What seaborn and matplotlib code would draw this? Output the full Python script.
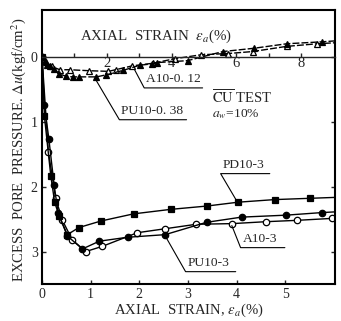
import numpy as np
import pandas as pd
import matplotlib
matplotlib.use("Agg")
import matplotlib.pyplot as plt
import seaborn as sns

# ---------------- data (bottom axis: axial strain 0-6 %) ----------------
pd10_3_x = [0, 0.05, 0.18, 0.26, 0.35, 0.52, 0.76, 1.21, 1.88, 2.65, 3.38, 4.03, 4.78, 5.51, 6.25]
pd10_3_y = [0, 0.92, 1.83, 2.24, 2.45, 2.74, 2.63, 2.53, 2.42, 2.35, 2.30, 2.24, 2.20, 2.18, 2.16]

pu10_3_x = [0, 0.05, 0.14, 0.25, 0.33, 0.52, 0.83, 1.18, 1.76, 2.53, 3.38, 4.10, 5.01, 5.75, 6.25]
pu10_3_y = [0, 0.75, 1.26, 1.98, 2.40, 2.76, 2.96, 2.84, 2.78, 2.74, 2.55, 2.47, 2.44, 2.40, 2.38]

a10_3_x = [0, 0.13, 0.28, 0.42, 0.62, 0.90, 1.24, 1.96, 2.52, 3.17, 3.91, 4.61, 5.23, 5.95]
a10_3_y = [0, 1.46, 2.18, 2.52, 2.82, 3.00, 2.92, 2.71, 2.65, 2.58, 2.57, 2.54, 2.52, 2.49]

# ---------------- data (top axis: axial strain 0-9 %) ----------------
a10_012_x = [0, 0.12, 0.30, 0.55, 0.85, 1.45, 2.05, 2.27, 2.79, 3.42, 4.10, 4.90, 5.75, 6.50, 7.55, 8.50, 9.20]
a10_012_y = [0, 0.08, 0.15, 0.20, 0.20, 0.215, 0.225, 0.20, 0.14, 0.10, 0.03, -0.03, -0.05, -0.08, -0.16, -0.20, -0.22]

pu10_038_x = [0, 0.08, 0.16, 0.25, 0.37, 0.52, 0.73, 0.95, 1.14, 1.68, 1.97, 2.50, 3.02, 3.40, 3.55, 4.49, 5.58, 6.53, 7.55, 8.64, 9.20]
pu10_038_y = [0, 0.06, 0.12, 0.15, 0.19, 0.26, 0.30, 0.31, 0.31, 0.31, 0.28, 0.21, 0.13, 0.11, 0.09, 0.06, -0.08, -0.13, -0.20, -0.23, -0.25]

bottom_ticks = [0, 1, 2, 3, 4, 5]
top_ticks = [2, 4, 6, 8]
top_minor = [1, 3, 5, 7]
y_ticks = [0, 1, 2, 3]

# ---------------- style ----------------
sns.set_style("ticks")
plt.rcParams["font.family"] = ["Liberation Serif", "DejaVu Serif"]
plt.rcParams["mathtext.fontset"] = "stix"

fig = plt.figure(figsize=(3.41, 3.21), dpi=100)
ax = fig.add_axes([42/341, 1-284/321, 293/341, 274/321])

def draw(axis, x, y, marker, filled, ls="-", ms=4.6):
    df = pd.DataFrame({"x": x, "y": y})
    sns.lineplot(data=df, x="x", y="y", ax=axis, sort=False, estimator=None,
                 color="black", linewidth=1.0, linestyle=ls, marker=marker,
                 markersize=ms, markerfacecolor="black" if filled else "white",
                 markeredgecolor="black", markeredgewidth=0.9, clip_on=True)

draw(ax, a10_3_x, a10_3_y, "o", False)
draw(ax, pu10_3_x, pu10_3_y, "o", True)
draw(ax, pd10_3_x, pd10_3_y, "s", True)

ax.set_xlim(0, 6.02)
ax.set_ylim(3.5, -0.72)
ax.set_xticks(bottom_ticks)
ax.set_yticks(y_ticks)
ax.tick_params(axis="both", direction="in", length=3, width=1, labelsize=10, pad=3,
               right=True, top=False)
ax.set_xlabel("AXIAL  STRAIN, $\\varepsilon_a$(%)", fontsize=10.6, labelpad=0)
ax.set_ylabel("EXCESS  PORE  PRESSURE. $\\Delta u$(kgf/cm$^2$)", fontsize=10.6)
ax.yaxis.set_label_coords(-0.047, 0.49)
for s in ax.spines.values():
    s.set_linewidth(1.5)
    s.set_color("black")

# secondary axis along the zero line
ax2 = ax.twiny()
draw(ax2, a10_012_x, a10_012_y, "^", False, ls=(0, (5, 1.5)), ms=4.4)
draw(ax2, pu10_038_x, pu10_038_y, "^", True, ls=(0, (5, 1.5)), ms=4.4)
ax2.set_xlim(0, 9.04)
ax2.set_ylim(3.5, -0.72)
for k in ["top", "left", "right"]:
    ax2.spines[k].set_visible(False)
ax2.spines["bottom"].set_visible(True)
ax2.spines["bottom"].set_position(("data", 0))
ax2.spines["bottom"].set_linewidth(1.0)
ax2.xaxis.set_ticks_position("bottom")
ax2.xaxis.set_label_position("bottom")
ax2.set_xticks(top_ticks)
ax2.set_xticks(top_minor, minor=True)
ax2.tick_params(axis="x", which="both", direction="in", length=3, width=1,
                labelsize=10.5, pad=0)
ax2.set_xlabel("")
ax2.set_ylabel("")
ax.text(0.13, 0.905, "AXIAL  STRAIN  $\\varepsilon_a$(%)", transform=ax.transAxes,
        fontsize=10.8, va="center", ha="left")

# annotations with leader lines and underlines (bottom-axis data units)
def tag(text, x0, x1, yl, tx, ty):
    ax.plot([tx, x0, x1], [ty, yl, yl], color="black", lw=0.8, clip_on=False)
    ax.text(x0 + 0.04, yl - 0.04, text, fontsize=9.7, ha="left", va="bottom")

tag("A10-0. 12", 2.10, 3.30, 0.48, 1.86, 0.14)
tag("PU10-0. 38", 1.59, 2.97, 0.97, 1.11, 0.36)
tag("PD10-3", 3.67, 4.68, 1.80, 4.00, 2.22)
tag("A10-3", 4.08, 4.99, 2.94, 3.90, 2.60)
tag("PU10-3", 2.95, 3.98, 3.31, 2.54, 2.77)

ax.text(3.50, 0.63, "$\\overline{\\mathrm{CU}}$ TEST", fontsize=10.5, ha="left", va="center")
ax.text(3.50, 0.89, "$a_w$=10%", fontsize=9.7, ha="left", va="center")

fig.savefig("out.png", dpi=100)
